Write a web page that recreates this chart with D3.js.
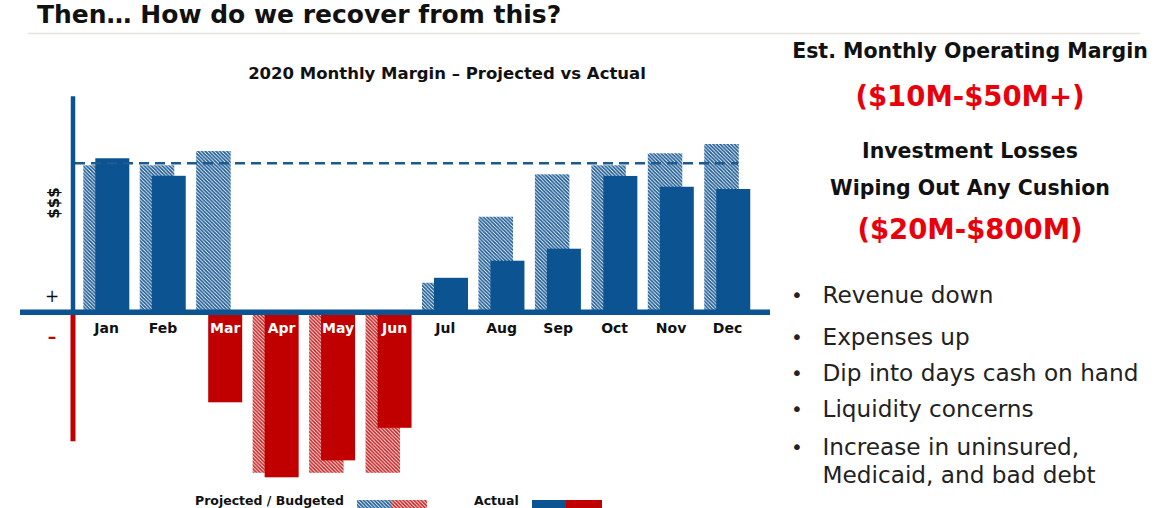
<!DOCTYPE html>
<html>
<head>
<meta charset="utf-8">
<script src="https://cdn.jsdelivr.net/npm/d3@7"></script>
<style>
  html, body { margin: 0; padding: 0; background: #fff; }
  svg { display: block; }
</style>
</head>
<body>
<svg id="chart" width="1170" height="508"></svg>
<script>
// ---------- data ----------
const months = ["Jan","Feb","Mar","Apr","May","Jun","Jul","Aug","Sep","Oct","Nov","Dec"];
const projected = [98, 98, 107.5, -107, -107, -107, 19.7, 63.7, 92, 98, 106, 112.2];
const actual = [102.7, 91, -60, -110, -98.7, -77, 23, 34.4, 42.4, 90.9, 83.7, 82.2];
const target = [99.3];
const yDomain = [-86, 144];

const pageTitle = "Then… How do we recover from this?";
const chartTitle = "2020 Monthly Margin – Projected vs Actual";
const sideHeads = [
  {text: "Est. Monthly Operating Margin", kind: "head"},
  {text: "($10M-$50M+)", kind: "red"},
  {text: "Investment Losses", kind: "head"},
  {text: "Wiping Out Any Cushion", kind: "head"},
  {text: "($20M-$800M)", kind: "red"}
];
const bullets = ["Revenue down", "Expenses up", "Dip into days cash on hand", "Liquidity concerns", "Increase in uninsured,\nMedicaid, and bad debt"];
const legendLabels = ["Projected / Budgeted", "Actual"];

// ---------- styles ----------
const BLUE = "#0b5491";
const RED = "#c00000";
const BRIGHT_RED = "#e8000b";
const INK = "#111111";
const FONT = "'DejaVu Sans', sans-serif";

const svg = d3.select("#chart");

// patterns
const defs = svg.append("defs");
function hatch(id, color) {
  const p = defs.append("pattern").attr("id", id)
    .attr("patternUnits", "userSpaceOnUse")
    .attr("width", 3.6).attr("height", 3.6);
  p.append("rect").attr("width", 3.6).attr("height", 3.6).attr("fill", "#fff");
  p.append("path")
    .attr("d", "M0,0 L3.6,3.6 M-1,2.6 L1,4.6 M2.6,-1 L4.6,1")
    .attr("stroke", color).attr("stroke-width", 1.7);
}
hatch("hatchBlue", "#185892");
hatch("hatchRed", "#c81f1f");

// ---------- page header ----------
svg.append("text").attr("x", 37).attr("y", 23)
  .attr("font-family", FONT).attr("font-weight", "bold").attr("font-size", 25)
  .attr("fill", INK).text(pageTitle);
svg.append("line").attr("x1", 28).attr("x2", 1140).attr("y1", 33.5).attr("y2", 33.5)
  .attr("stroke", "#e7e4dc").attr("stroke-width", 1.5);

// ---------- scales ----------
const x = d3.scaleBand().domain(months)
  .range([83.3, 83.3 + 56.45 * (12 - 0.176)])
  .paddingInner(0.176).paddingOuter(0);
const y = d3.scaleLinear().domain(yDomain).range([441.3, 96.3]);
const projW = 34.5, actOff = 12, actW = 34;

// chart title
svg.append("text").attr("x", 447).attr("y", 79).attr("text-anchor", "middle")
  .attr("font-family", FONT).attr("font-weight", "bold").attr("font-size", 16.5)
  .attr("fill", INK).text(chartTitle);

const g = svg.append("g");

// projected (hatched)
g.selectAll("rect.proj").data(months).join("rect").attr("class", "proj")
  .attr("x", d => x(d))
  .attr("width", projW)
  .attr("y", (d, i) => y(Math.max(0, projected[i])))
  .attr("height", (d, i) => Math.abs(y(projected[i]) - y(0)))
  .attr("fill", (d, i) => projected[i] >= 0 ? "url(#hatchBlue)" : "url(#hatchRed)");

// actual (solid)
g.selectAll("rect.act").data(months).join("rect").attr("class", "act")
  .attr("x", d => x(d) + actOff)
  .attr("width", actW)
  .attr("y", (d, i) => y(Math.max(0, actual[i])))
  .attr("height", (d, i) => Math.abs(y(actual[i]) - y(0)))
  .attr("fill", (d, i) => actual[i] >= 0 ? BLUE : RED);

// target dashed line
svg.append("line").attr("x1", 75).attr("x2", 738)
  .attr("y1", y(target[0])).attr("y2", y(target[0]))
  .attr("stroke", "#1c5a90").attr("stroke-width", 2.5).attr("stroke-dasharray", "10,6");

// zero axis
svg.append("line").attr("x1", 20).attr("x2", 770).attr("y1", y(0)).attr("y2", y(0))
  .attr("stroke", BLUE).attr("stroke-width", 5.5);
// vertical axis
svg.append("line").attr("x1", 73).attr("x2", 73).attr("y1", y(0)).attr("y2", y(yDomain[1]))
  .attr("stroke", BLUE).attr("stroke-width", 4.5);
svg.append("line").attr("x1", 73).attr("x2", 73).attr("y1", y(0) + 2.7).attr("y2", y(yDomain[0]))
  .attr("stroke", RED).attr("stroke-width", 5);

// month labels
g.selectAll("text.month").data(months).join("text").attr("class", "month")
  .attr("x", (d, i) => actual[i] < 0 ? x(d) + actOff + actW / 2 : x(d) + x.bandwidth() / 2)
  .attr("y", 332.5)
  .attr("text-anchor", "middle")
  .attr("font-family", FONT).attr("font-weight", "bold").attr("font-size", 14)
  .attr("fill", (d, i) => actual[i] < 0 ? "#ffffff" : INK)
  .text(d => d);

// axis annotations
svg.append("text").attr("transform", "translate(59,203) rotate(-90)")
  .attr("text-anchor", "middle")
  .attr("font-family", FONT).attr("font-weight", "bold").attr("font-size", 15)
  .attr("fill", INK).text("$$$");
svg.append("text").attr("x", 52).attr("y", 302).attr("text-anchor", "middle")
  .attr("font-family", FONT).attr("font-size", 17).attr("fill", INK).text("+");
svg.append("text").attr("x", 52).attr("y", 343).attr("text-anchor", "middle")
  .attr("font-family", FONT).attr("font-weight", "bold").attr("font-size", 17).attr("fill", RED).text("–");

// legend (near bottom edge)
svg.append("text").attr("x", 195).attr("y", 504.5)
  .attr("font-family", FONT).attr("font-weight", "bold").attr("font-size", 12.5)
  .attr("fill", INK).text(legendLabels[0]);
svg.append("rect").attr("x", 357).attr("y", 500).attr("width", 35).attr("height", 12).attr("fill", "url(#hatchBlue)");
svg.append("rect").attr("x", 392).attr("y", 500).attr("width", 35).attr("height", 12).attr("fill", "url(#hatchRed)");
svg.append("text").attr("x", 474).attr("y", 504.5)
  .attr("font-family", FONT).attr("font-weight", "bold").attr("font-size", 12.5)
  .attr("fill", INK).text(legendLabels[1]);
svg.append("rect").attr("x", 532).attr("y", 500).attr("width", 34).attr("height", 12).attr("fill", BLUE);
svg.append("rect").attr("x", 566).attr("y", 500).attr("width", 36).attr("height", 12).attr("fill", RED);

// ---------- side panel ----------
const headY = [58.3, 106, 158.3, 195, 238.5];
svg.selectAll("text.side").data(sideHeads).join("text").attr("class", "side")
  .attr("x", 970).attr("y", (d, i) => headY[i])
  .attr("text-anchor", "middle")
  .attr("font-family", FONT).attr("font-weight", "bold")
  .attr("font-size", d => d.kind === "red" ? 27.5 : 20.5)
  .attr("fill", d => d.kind === "red" ? BRIGHT_RED : INK)
  .text(d => d.text);

const bulletY = [303.3, 345, 380.5, 416.7, 455];
const bl = svg.selectAll("g.bullet").data(bullets).join("g").attr("class", "bullet")
  .attr("transform", (d, i) => `translate(0,${bulletY[i]})`);
bl.append("text").attr("x", 791).attr("y", -1)
  .attr("font-family", FONT).attr("font-size", 20).attr("fill", "#222").text("•");
bl.each(function(d) {
  const lines = d.split("\n");
  const t = d3.select(this).append("text").attr("x", 822.5)
    .attr("font-family", FONT).attr("font-size", 23.2).attr("fill", "#222");
  lines.forEach((ln, j) => {
    t.append("tspan").attr("x", 822.5).attr("dy", j === 0 ? 0 : 28.3).text(ln);
  });
});
</script>
</body>
</html>
